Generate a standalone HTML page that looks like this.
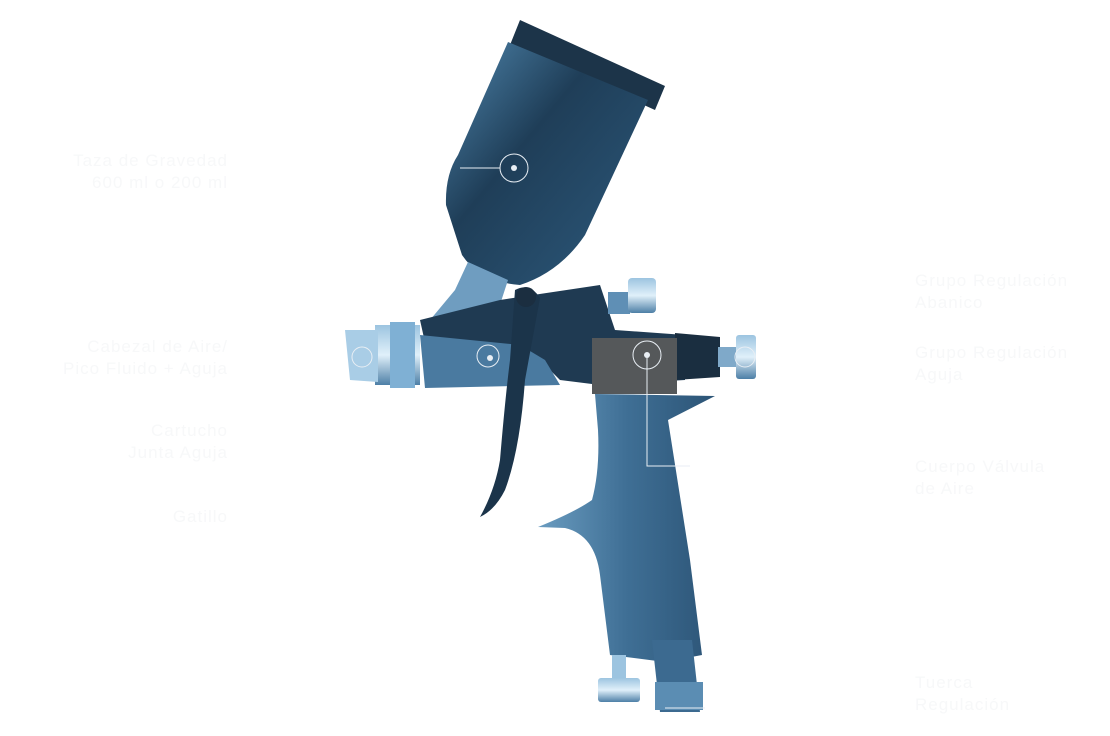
<!DOCTYPE html>
<html><head><meta charset="utf-8">
<style>
html,body{margin:0;padding:0;background:#fff;}
body{width:1110px;height:736px;overflow:hidden;position:relative;font-family:"Liberation Sans",sans-serif;}
.l{position:absolute;color:#f7f8f9;font-size:17px;line-height:22px;letter-spacing:1px;}
.r{text-align:right;right:882px;}
</style></head><body>
<svg width="1110" height="736" style="position:absolute;left:0;top:0">
<defs>
<linearGradient id="cup" x1="0" y1="0" x2="1" y2="1">
<stop offset="0" stop-color="#4f86ad"/><stop offset="0.4" stop-color="#1f3e58"/><stop offset="1" stop-color="#2d5a7d"/></linearGradient>
<linearGradient id="hnd" x1="0" y1="0" x2="1" y2="0">
<stop offset="0" stop-color="#6a9cc0"/><stop offset="0.5" stop-color="#3f6f95"/><stop offset="1" stop-color="#2c5476"/></linearGradient>
<linearGradient id="met" x1="0" y1="0" x2="0" y2="1">
<stop offset="0" stop-color="#9cc4e0"/><stop offset="0.5" stop-color="#e0f0fa"/><stop offset="1" stop-color="#4d7fa6"/></linearGradient>
</defs>
<polygon points="520,20 665,86 655,110 510,45" fill="#1c3449"/>
<path d="M508,42 L648,100 L585,235 Q560,272 520,285 Q480,282 462,255 L446,205 Q445,175 458,155 Z" fill="url(#cup)"/>
<polygon points="468,262 508,280 495,320 445,330 430,320 455,290" fill="#6f9dc0"/>
<polygon points="420,320 500,300 600,285 615,330 685,335 685,380 600,385 560,380 540,360 430,365" fill="#1f3a52"/>
<polygon points="420,335 520,345 545,360 560,385 425,388" fill="#4a7aa0"/>
<rect x="375" y="325" width="45" height="60" fill="url(#met)"/>
<polygon points="345,330 378,330 378,382 350,380" fill="#a9cde6"/>
<rect x="390" y="322" width="25" height="66" fill="#7fb0d4"/>
<rect x="608" y="292" width="22" height="22" fill="#5f8fb5"/>
<rect x="628" y="278" width="28" height="35" rx="4" fill="url(#met)"/>
<polygon points="675,333 720,337 720,377 675,380" fill="#1a2e40"/>
<rect x="718" y="347" width="20" height="20" fill="#7fa9c9"/>
<rect x="736" y="335" width="20" height="44" rx="3" fill="url(#met)"/>
<rect x="592" y="338" width="85" height="56" fill="#55585a"/>
<path d="M595,394 L715,396 L668,420 L690,560 L702,655 L665,662 L610,655 L600,575 Q595,535 565,528 L538,527 Q575,512 592,500 Q600,470 598,430 Z" fill="url(#hnd)"/>
<path d="M515,290 Q530,282 540,298 L525,380 Q520,450 505,490 Q495,510 480,517 Q495,490 500,460 Q505,400 510,360 Z" fill="#1b344a"/>
<circle cx="526" cy="297" r="10" fill="#1b2e40"/>
<polygon points="652,640 692,640 700,712 660,712" fill="#3c6a90"/>
<rect x="655" y="682" width="48" height="28" fill="#5b8db3"/>
<rect x="612" y="655" width="14" height="25" fill="#9cc4e0"/>
<rect x="598" y="678" width="42" height="24" rx="3" fill="url(#met)"/>
<g stroke="#e8eef4" stroke-width="1" fill="none">
<line x1="460" y1="168" x2="500" y2="168"/><circle cx="514" cy="168" r="14"/>
<circle cx="647" cy="355" r="14"/><polyline points="647,355 647,466 690,466"/>
<circle cx="488" cy="356" r="11"/>
<circle cx="362" cy="357" r="10"/>
<circle cx="745" cy="357" r="10"/>
<line x1="665" y1="708" x2="705" y2="708"/>
</g>
<g fill="#e8eef4"><circle cx="514" cy="168" r="3"/><circle cx="647" cy="355" r="3"/><circle cx="490" cy="358" r="3"/></g>
</svg>
<div class="l r" style="top:150px;">Taza de Gravedad<br>600 ml o 200 ml</div>
<div class="l r" style="top:336px;">Cabezal de Aire/<br>Pico Fluido + Aguja</div>
<div class="l r" style="top:420px;">Cartucho<br>Junta Aguja</div>
<div class="l r" style="top:506px;">Gatillo</div>
<div class="l" style="left:915px;top:270px;">Grupo Regulación<br>Abanico</div>
<div class="l" style="left:915px;top:342px;">Grupo Regulación<br>Aguja</div>
<div class="l" style="left:915px;top:456px;">Cuerpo Válvula<br>de Aire</div>
<div class="l" style="left:915px;top:672px;">Tuerca<br>Regulación</div>
</body></html>
